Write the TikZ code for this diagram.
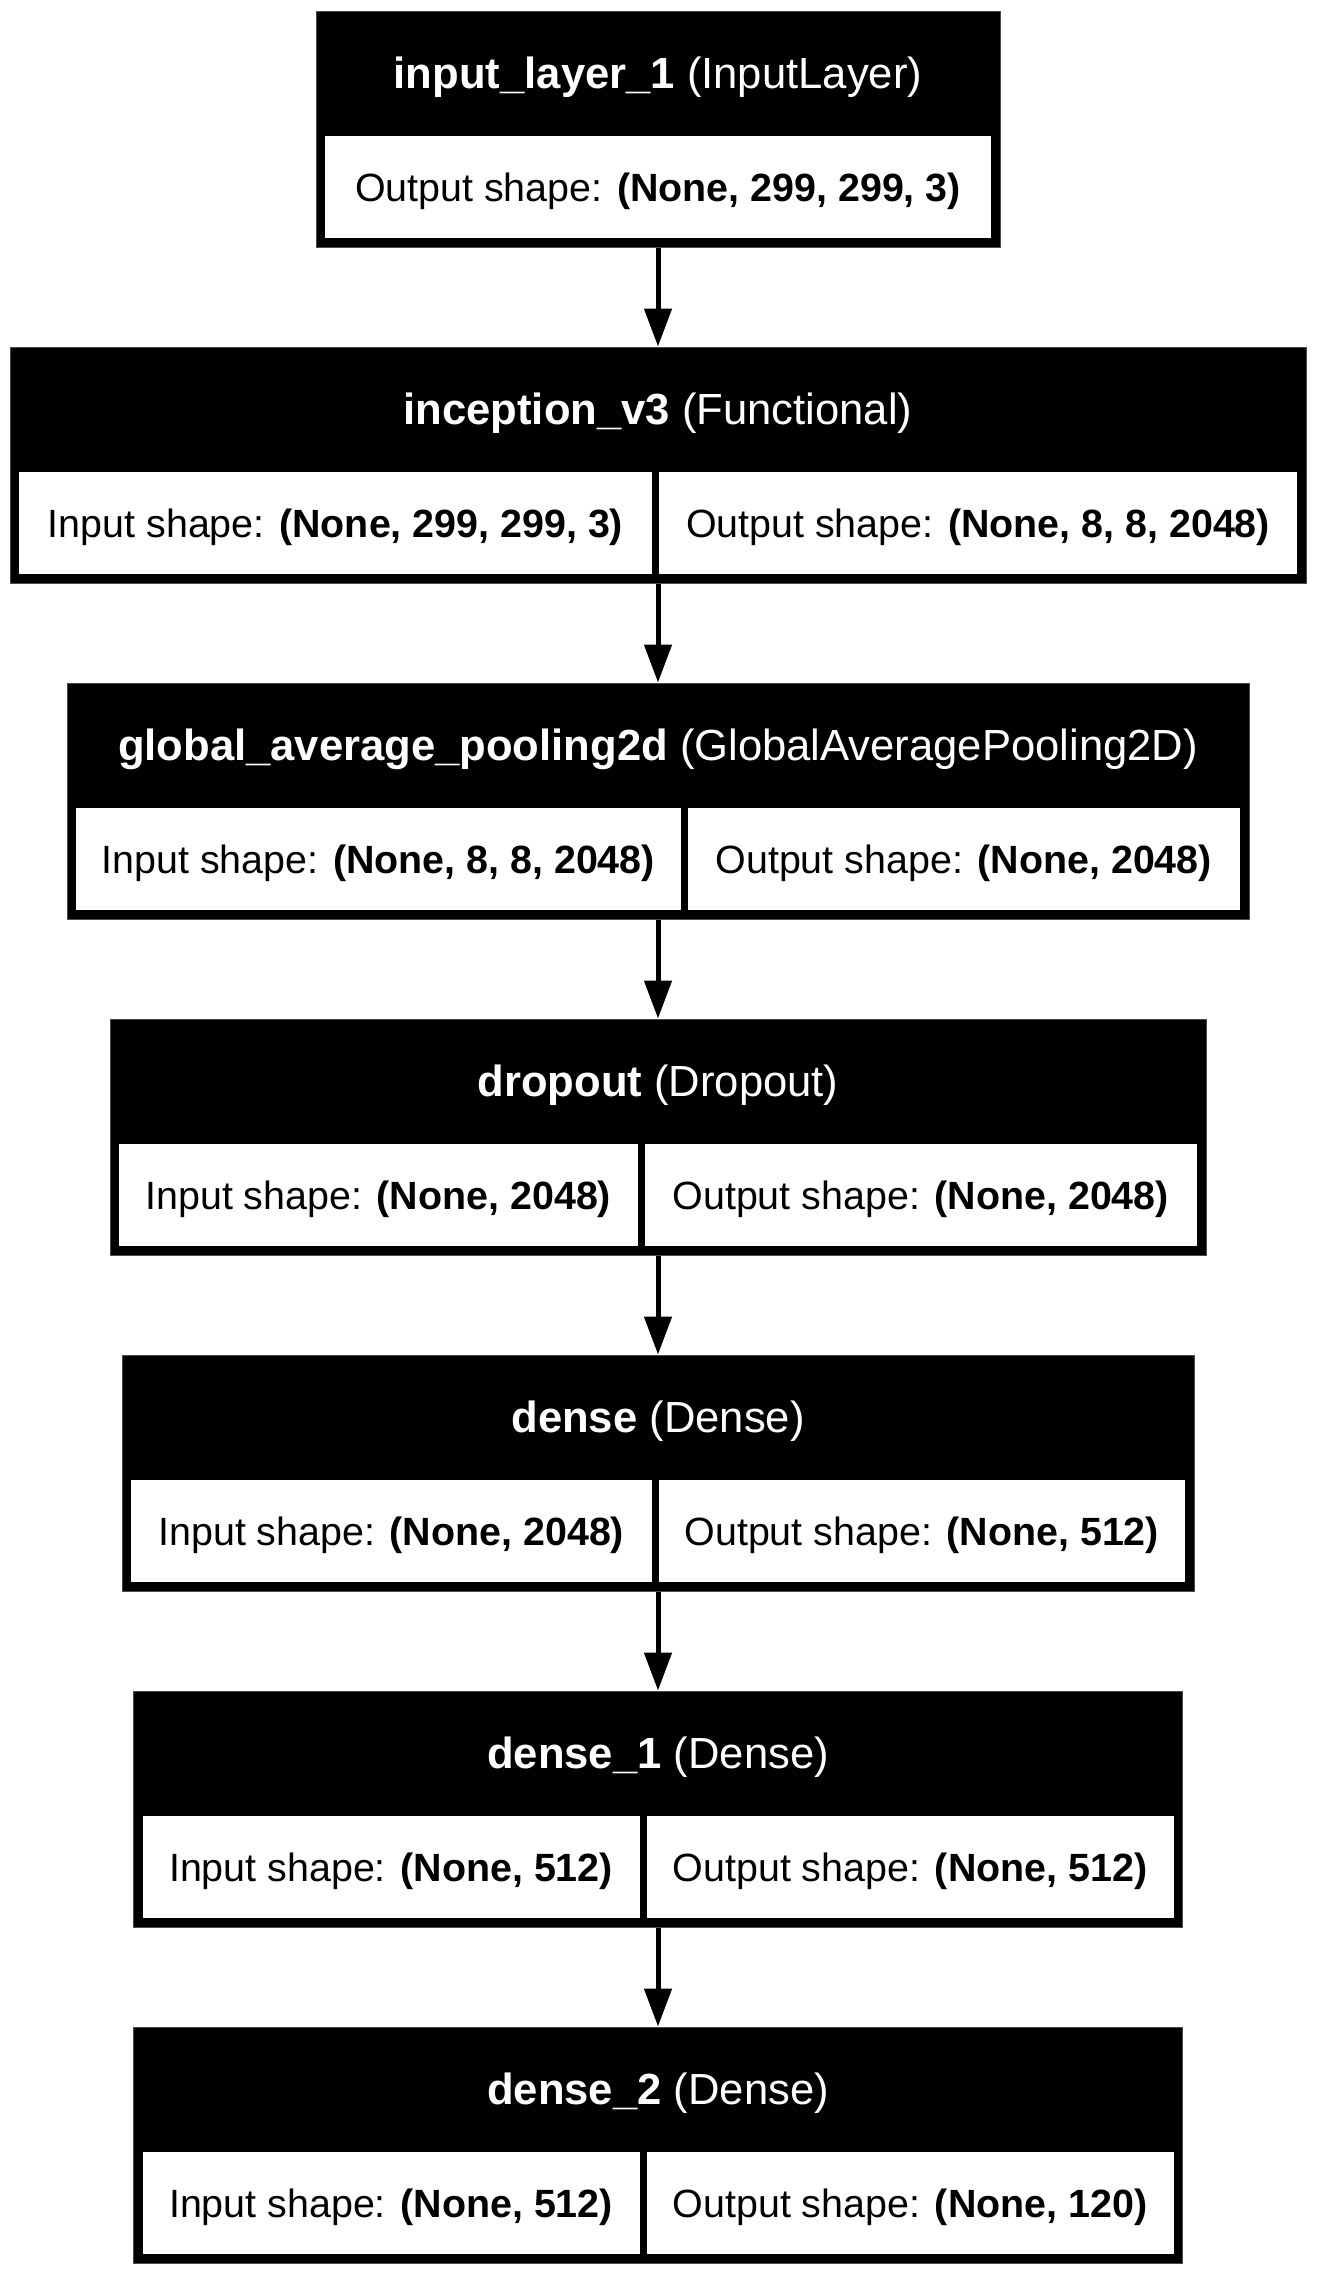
\documentclass[tikz,border=0pt]{standalone}
\usepackage{fontspec}
\setmainfont{Liberation Sans}
\usepackage{tikz}
\usetikzlibrary{arrows.meta}

\begin{document}
\begin{tikzpicture}[x=0.5pt, y=-0.5pt]
\tikzset{
  layer/.style={draw=black!70, line width=0.5pt, fill=black, inner sep=0pt, minimum height=118pt},
  head/.style={text=white, inner sep=0pt, font=\fontsize{21.8}{26}\selectfont},
  cell/.style={fill=white, inner sep=0pt, minimum height=51pt, text height=16pt, text depth=2pt, font=\fontsize{19.7}{24}\selectfont},
  arr/.style={line width=2.5pt, -{Triangle[length=19pt, width=13.5pt]}}
}
\useasboundingbox (0,0) rectangle (1317,2275);

% one layer: name, top, width, split, header, input, output
\def\Layer#1#2#3#4#5#6#7{
\pgfmathsetmacro\lx{658-#3/2}
\pgfmathsetmacro\rx{658+#3/2}
\node[layer, minimum width=#3*0.5pt] (#1) at (658,#2+118) {};
\node[head] (#1h) at (658,#2+66) {#5};
\node[cell, minimum width=(#4-3.5-\lx-9)*0.5pt] (#1i) at ({(\lx+9+#4-3.5)/2},#2+176) {#6};
\node[cell, minimum width=(\rx-9-#4-3.5)*0.5pt] (#1o) at ({(#4+3.5+\rx-9)/2},#2+176) {#7};
}

%InputLayer
\node[layer, minimum width=342pt] (input) at (658,129) {};
\node[head] (inputh) at (658,77) {\textbf{input\_layer\_1} (InputLayer)};
\node[cell, minimum width=333pt] (inputo) at (658,187) {Output shape: \textbf{(None, 299, 299, 3)}};

\Layer{inception}{347}{1296}{655.5}{\textbf{inception\_v3} (Functional)}
  {Input shape: \textbf{(None, 299, 299, 3)}}{Output shape: \textbf{(None, 8, 8, 2048)}}
\Layer{pool}{683}{1182}{684}{\textbf{global\_average\_pooling2d} (GlobalAveragePooling2D)}
  {Input shape: \textbf{(None, 8, 8, 2048)}}{Output shape: \textbf{(None, 2048)}}
\Layer{dropout}{1019}{1096}{641}{\textbf{dropout} (Dropout)}
  {Input shape: \textbf{(None, 2048)}}{Output shape: \textbf{(None, 2048)}}
\Layer{dense}{1355}{1072}{655}{\textbf{dense} (Dense)}
  {Input shape: \textbf{(None, 2048)}}{Output shape: \textbf{(None, 512)}}
\Layer{denseone}{1691}{1049}{643}{\textbf{dense\_1} (Dense)}
  {Input shape: \textbf{(None, 512)}}{Output shape: \textbf{(None, 512)}}
\Layer{densetwo}{2027}{1049}{643}{\textbf{dense\_2} (Dense)}
  {Input shape: \textbf{(None, 512)}}{Output shape: \textbf{(None, 120)}}

%arrows
\foreach \a/\b in {input/inception, inception/pool, pool/dropout, dropout/dense, dense/denseone, denseone/densetwo}
{ \draw[arr] (\a) -- (\b); }
\end{tikzpicture}
\end{document}
